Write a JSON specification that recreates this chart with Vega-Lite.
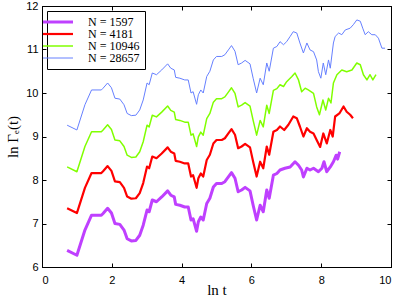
{
  "$schema": "https://vega.github.io/schema/vega-lite/v6.json",
  "autosize": "none",
  "width": 349,
  "height": 261,
  "padding": {"left": 42, "top": 6, "right": 9, "bottom": 33},
  "background": "white",
  "config": {
    "view": {"stroke": "black", "strokeWidth": 1},
    "axis": {"grid": false, "domainColor": "black", "tickColor": "black", "labelColor": "black", "titleColor": "black", "labelFont": "Liberation Sans", "labelFontSize": 11, "tickSize": -4, "titleFont": "Liberation Serif", "titleFontSize": 15, "titleFontWeight": "normal"},
    "legend": {"symbolSize": 900, "symbolStrokeWidth": 2}
  },
  "datasets": {
    "d": [
      {"s":"N = 1597","x":0.72,"y":6.38},{"s":"N = 1597","x":1.0,"y":6.27},{"s":"N = 1597","x":1.23,"y":6.85},{"s":"N = 1597","x":1.42,"y":7.19},{"s":"N = 1597","x":1.7,"y":7.19},{"s":"N = 1597","x":1.75,"y":7.23},{"s":"N = 1597","x":1.88,"y":7.35},{"s":"N = 1597","x":1.99,"y":7.24},{"s":"N = 1597","x":2.09,"y":7.0},{"s":"N = 1597","x":2.23,"y":6.98},{"s":"N = 1597","x":2.35,"y":6.85},{"s":"N = 1597","x":2.44,"y":6.65},{"s":"N = 1597","x":2.56,"y":6.6},{"s":"N = 1597","x":2.69,"y":6.61},{"s":"N = 1597","x":2.8,"y":6.73},{"s":"N = 1597","x":2.9,"y":6.96},{"s":"N = 1597","x":3.01,"y":7.31},{"s":"N = 1597","x":3.07,"y":7.27},{"s":"N = 1597","x":3.16,"y":7.54},{"s":"N = 1597","x":3.28,"y":7.5},{"s":"N = 1597","x":3.43,"y":7.61},{"s":"N = 1597","x":3.6,"y":7.75},{"s":"N = 1597","x":3.69,"y":7.65},{"s":"N = 1597","x":3.79,"y":7.61},{"s":"N = 1597","x":3.83,"y":7.44},{"s":"N = 1597","x":3.95,"y":7.42},{"s":"N = 1597","x":4.09,"y":7.38},{"s":"N = 1597","x":4.19,"y":7.38},{"s":"N = 1597","x":4.27,"y":7.08},{"s":"N = 1597","x":4.33,"y":7.11},{"s":"N = 1597","x":4.43,"y":6.82},{"s":"N = 1597","x":4.48,"y":7.04},{"s":"N = 1597","x":4.55,"y":7.15},{"s":"N = 1597","x":4.62,"y":7.08},{"s":"N = 1597","x":4.72,"y":7.46},{"s":"N = 1597","x":4.81,"y":7.58},{"s":"N = 1597","x":4.91,"y":7.84},{"s":"N = 1597","x":5.0,"y":7.92},{"s":"N = 1597","x":5.15,"y":7.92},{"s":"N = 1597","x":5.24,"y":7.96},{"s":"N = 1597","x":5.34,"y":8.07},{"s":"N = 1597","x":5.43,"y":8.17},{"s":"N = 1597","x":5.53,"y":8.04},{"s":"N = 1597","x":5.62,"y":7.73},{"s":"N = 1597","x":5.72,"y":7.77},{"s":"N = 1597","x":5.82,"y":7.83},{"s":"N = 1597","x":5.96,"y":7.75},{"s":"N = 1597","x":6.05,"y":7.42},{"s":"N = 1597","x":6.15,"y":7.08},{"s":"N = 1597","x":6.25,"y":7.42},{"s":"N = 1597","x":6.34,"y":7.27},{"s":"N = 1597","x":6.44,"y":7.77},{"s":"N = 1597","x":6.51,"y":7.58},{"s":"N = 1597","x":6.63,"y":8.11},{"s":"N = 1597","x":6.73,"y":8.15},{"s":"N = 1597","x":6.82,"y":8.23},{"s":"N = 1597","x":6.96,"y":8.27},{"s":"N = 1597","x":7.11,"y":8.3},{"s":"N = 1597","x":7.25,"y":8.42},{"s":"N = 1597","x":7.35,"y":8.34},{"s":"N = 1597","x":7.44,"y":8.23},{"s":"N = 1597","x":7.49,"y":8.07},{"s":"N = 1597","x":7.59,"y":8.27},{"s":"N = 1597","x":7.68,"y":8.23},{"s":"N = 1597","x":7.78,"y":8.27},{"s":"N = 1597","x":7.92,"y":8.19},{"s":"N = 1597","x":8.02,"y":8.27},{"s":"N = 1597","x":8.08,"y":8.42},{"s":"N = 1597","x":8.16,"y":8.19},{"s":"N = 1597","x":8.26,"y":8.3},{"s":"N = 1597","x":8.35,"y":8.42},{"s":"N = 1597","x":8.43,"y":8.57},{"s":"N = 1597","x":8.47,"y":8.48},{"s":"N = 1597","x":8.53,"y":8.65},

      {"s":"N = 4181","x":0.72,"y":7.35},{"s":"N = 4181","x":1.0,"y":7.24},{"s":"N = 4181","x":1.23,"y":7.82},{"s":"N = 4181","x":1.42,"y":8.16},{"s":"N = 4181","x":1.7,"y":8.16},{"s":"N = 4181","x":1.75,"y":8.2},{"s":"N = 4181","x":1.88,"y":8.32},{"s":"N = 4181","x":1.99,"y":8.21},{"s":"N = 4181","x":2.09,"y":7.97},{"s":"N = 4181","x":2.23,"y":7.95},{"s":"N = 4181","x":2.35,"y":7.82},{"s":"N = 4181","x":2.44,"y":7.62},{"s":"N = 4181","x":2.56,"y":7.57},{"s":"N = 4181","x":2.69,"y":7.58},{"s":"N = 4181","x":2.8,"y":7.7},{"s":"N = 4181","x":2.9,"y":7.93},{"s":"N = 4181","x":3.01,"y":8.31},{"s":"N = 4181","x":3.07,"y":8.27},{"s":"N = 4181","x":3.16,"y":8.54},{"s":"N = 4181","x":3.28,"y":8.5},{"s":"N = 4181","x":3.43,"y":8.61},{"s":"N = 4181","x":3.6,"y":8.75},{"s":"N = 4181","x":3.69,"y":8.65},{"s":"N = 4181","x":3.79,"y":8.61},{"s":"N = 4181","x":3.83,"y":8.44},{"s":"N = 4181","x":3.95,"y":8.42},{"s":"N = 4181","x":4.09,"y":8.38},{"s":"N = 4181","x":4.19,"y":8.38},{"s":"N = 4181","x":4.27,"y":8.08},{"s":"N = 4181","x":4.33,"y":8.11},{"s":"N = 4181","x":4.43,"y":7.82},{"s":"N = 4181","x":4.48,"y":8.04},{"s":"N = 4181","x":4.55,"y":8.15},{"s":"N = 4181","x":4.62,"y":8.08},{"s":"N = 4181","x":4.72,"y":8.46},{"s":"N = 4181","x":4.81,"y":8.58},{"s":"N = 4181","x":4.91,"y":8.84},{"s":"N = 4181","x":5.0,"y":8.92},{"s":"N = 4181","x":5.15,"y":8.92},{"s":"N = 4181","x":5.24,"y":8.96},{"s":"N = 4181","x":5.34,"y":9.07},{"s":"N = 4181","x":5.43,"y":9.17},{"s":"N = 4181","x":5.53,"y":9.04},{"s":"N = 4181","x":5.62,"y":8.73},{"s":"N = 4181","x":5.72,"y":8.77},{"s":"N = 4181","x":5.82,"y":8.83},{"s":"N = 4181","x":5.96,"y":8.75},{"s":"N = 4181","x":6.05,"y":8.42},{"s":"N = 4181","x":6.15,"y":8.08},{"s":"N = 4181","x":6.25,"y":8.42},{"s":"N = 4181","x":6.34,"y":8.27},{"s":"N = 4181","x":6.44,"y":8.77},{"s":"N = 4181","x":6.51,"y":8.58},{"s":"N = 4181","x":6.63,"y":9.11},{"s":"N = 4181","x":6.73,"y":9.15},{"s":"N = 4181","x":6.82,"y":9.23},{"s":"N = 4181","x":6.94,"y":9.15},{"s":"N = 4181","x":7.06,"y":9.27},{"s":"N = 4181","x":7.2,"y":9.46},{"s":"N = 4181","x":7.3,"y":9.42},{"s":"N = 4181","x":7.39,"y":9.23},{"s":"N = 4181","x":7.49,"y":9.0},{"s":"N = 4181","x":7.59,"y":9.19},{"s":"N = 4181","x":7.68,"y":9.11},{"s":"N = 4181","x":7.78,"y":9.07},{"s":"N = 4181","x":7.87,"y":8.92},{"s":"N = 4181","x":7.97,"y":8.76},{"s":"N = 4181","x":8.06,"y":9.07},{"s":"N = 4181","x":8.16,"y":8.84},{"s":"N = 4181","x":8.26,"y":9.15},{"s":"N = 4181","x":8.33,"y":9.0},{"s":"N = 4181","x":8.4,"y":9.46},{"s":"N = 4181","x":8.52,"y":9.53},{"s":"N = 4181","x":8.64,"y":9.69},{"s":"N = 4181","x":8.73,"y":9.57},{"s":"N = 4181","x":8.83,"y":9.5},{"s":"N = 4181","x":8.91,"y":9.42},

      {"s":"N = 10946","x":0.72,"y":8.3},{"s":"N = 10946","x":1.0,"y":8.19},{"s":"N = 10946","x":1.23,"y":8.77},{"s":"N = 10946","x":1.42,"y":9.11},{"s":"N = 10946","x":1.7,"y":9.11},{"s":"N = 10946","x":1.75,"y":9.15},{"s":"N = 10946","x":1.88,"y":9.27},{"s":"N = 10946","x":1.99,"y":9.16},{"s":"N = 10946","x":2.09,"y":8.92},{"s":"N = 10946","x":2.23,"y":8.9},{"s":"N = 10946","x":2.35,"y":8.77},{"s":"N = 10946","x":2.44,"y":8.57},{"s":"N = 10946","x":2.56,"y":8.52},{"s":"N = 10946","x":2.69,"y":8.53},{"s":"N = 10946","x":2.8,"y":8.65},{"s":"N = 10946","x":2.9,"y":8.88},{"s":"N = 10946","x":3.01,"y":9.26},{"s":"N = 10946","x":3.07,"y":9.22},{"s":"N = 10946","x":3.16,"y":9.49},{"s":"N = 10946","x":3.28,"y":9.45},{"s":"N = 10946","x":3.43,"y":9.56},{"s":"N = 10946","x":3.6,"y":9.7},{"s":"N = 10946","x":3.69,"y":9.6},{"s":"N = 10946","x":3.79,"y":9.56},{"s":"N = 10946","x":3.83,"y":9.39},{"s":"N = 10946","x":3.95,"y":9.37},{"s":"N = 10946","x":4.09,"y":9.33},{"s":"N = 10946","x":4.19,"y":9.33},{"s":"N = 10946","x":4.27,"y":9.03},{"s":"N = 10946","x":4.33,"y":9.06},{"s":"N = 10946","x":4.43,"y":8.77},{"s":"N = 10946","x":4.48,"y":8.99},{"s":"N = 10946","x":4.55,"y":9.1},{"s":"N = 10946","x":4.62,"y":9.03},{"s":"N = 10946","x":4.72,"y":9.41},{"s":"N = 10946","x":4.81,"y":9.53},{"s":"N = 10946","x":4.91,"y":9.79},{"s":"N = 10946","x":5.0,"y":9.87},{"s":"N = 10946","x":5.15,"y":9.87},{"s":"N = 10946","x":5.24,"y":9.91},{"s":"N = 10946","x":5.34,"y":10.02},{"s":"N = 10946","x":5.43,"y":10.12},{"s":"N = 10946","x":5.53,"y":9.99},{"s":"N = 10946","x":5.62,"y":9.68},{"s":"N = 10946","x":5.72,"y":9.72},{"s":"N = 10946","x":5.82,"y":9.78},{"s":"N = 10946","x":5.96,"y":9.7},{"s":"N = 10946","x":6.05,"y":9.37},{"s":"N = 10946","x":6.15,"y":9.03},{"s":"N = 10946","x":6.25,"y":9.37},{"s":"N = 10946","x":6.34,"y":9.22},{"s":"N = 10946","x":6.44,"y":9.72},{"s":"N = 10946","x":6.51,"y":9.53},{"s":"N = 10946","x":6.63,"y":10.06},{"s":"N = 10946","x":6.73,"y":10.1},{"s":"N = 10946","x":6.82,"y":10.19},{"s":"N = 10946","x":6.92,"y":10.15},{"s":"N = 10946","x":7.01,"y":10.26},{"s":"N = 10946","x":7.16,"y":10.38},{"s":"N = 10946","x":7.25,"y":10.46},{"s":"N = 10946","x":7.35,"y":10.3},{"s":"N = 10946","x":7.44,"y":10.03},{"s":"N = 10946","x":7.54,"y":10.11},{"s":"N = 10946","x":7.63,"y":10.07},{"s":"N = 10946","x":7.78,"y":9.99},{"s":"N = 10946","x":7.87,"y":9.68},{"s":"N = 10946","x":7.95,"y":9.5},{"s":"N = 10946","x":8.05,"y":9.84},{"s":"N = 10946","x":8.13,"y":9.61},{"s":"N = 10946","x":8.21,"y":9.88},{"s":"N = 10946","x":8.28,"y":9.77},{"s":"N = 10946","x":8.35,"y":10.23},{"s":"N = 10946","x":8.45,"y":10.42},{"s":"N = 10946","x":8.59,"y":10.53},{"s":"N = 10946","x":8.73,"y":10.49},{"s":"N = 10946","x":8.88,"y":10.53},{"s":"N = 10946","x":9.02,"y":10.69},{"s":"N = 10946","x":9.12,"y":10.65},{"s":"N = 10946","x":9.21,"y":10.42},{"s":"N = 10946","x":9.31,"y":10.3},{"s":"N = 10946","x":9.4,"y":10.42},{"s":"N = 10946","x":9.48,"y":10.3},{"s":"N = 10946","x":9.57,"y":10.42},

      {"s":"N = 28657","x":0.72,"y":9.26},{"s":"N = 28657","x":1.0,"y":9.15},{"s":"N = 28657","x":1.23,"y":9.73},{"s":"N = 28657","x":1.42,"y":10.07},{"s":"N = 28657","x":1.7,"y":10.07},{"s":"N = 28657","x":1.75,"y":10.11},{"s":"N = 28657","x":1.88,"y":10.23},{"s":"N = 28657","x":1.99,"y":10.12},{"s":"N = 28657","x":2.09,"y":9.88},{"s":"N = 28657","x":2.23,"y":9.86},{"s":"N = 28657","x":2.35,"y":9.73},{"s":"N = 28657","x":2.44,"y":9.53},{"s":"N = 28657","x":2.56,"y":9.48},{"s":"N = 28657","x":2.69,"y":9.49},{"s":"N = 28657","x":2.8,"y":9.61},{"s":"N = 28657","x":2.9,"y":9.84},{"s":"N = 28657","x":3.01,"y":10.23},{"s":"N = 28657","x":3.07,"y":10.19},{"s":"N = 28657","x":3.16,"y":10.46},{"s":"N = 28657","x":3.28,"y":10.42},{"s":"N = 28657","x":3.43,"y":10.53},{"s":"N = 28657","x":3.6,"y":10.67},{"s":"N = 28657","x":3.69,"y":10.57},{"s":"N = 28657","x":3.79,"y":10.53},{"s":"N = 28657","x":3.83,"y":10.36},{"s":"N = 28657","x":3.95,"y":10.34},{"s":"N = 28657","x":4.09,"y":10.3},{"s":"N = 28657","x":4.19,"y":10.3},{"s":"N = 28657","x":4.27,"y":10.0},{"s":"N = 28657","x":4.33,"y":10.03},{"s":"N = 28657","x":4.43,"y":9.74},{"s":"N = 28657","x":4.48,"y":9.96},{"s":"N = 28657","x":4.55,"y":10.07},{"s":"N = 28657","x":4.62,"y":10.0},{"s":"N = 28657","x":4.72,"y":10.38},{"s":"N = 28657","x":4.81,"y":10.5},{"s":"N = 28657","x":4.91,"y":10.76},{"s":"N = 28657","x":5.0,"y":10.84},{"s":"N = 28657","x":5.15,"y":10.84},{"s":"N = 28657","x":5.24,"y":10.88},{"s":"N = 28657","x":5.34,"y":10.99},{"s":"N = 28657","x":5.43,"y":11.09},{"s":"N = 28657","x":5.53,"y":10.96},{"s":"N = 28657","x":5.62,"y":10.65},{"s":"N = 28657","x":5.72,"y":10.69},{"s":"N = 28657","x":5.82,"y":10.75},{"s":"N = 28657","x":5.96,"y":10.67},{"s":"N = 28657","x":6.05,"y":10.34},{"s":"N = 28657","x":6.15,"y":10.0},{"s":"N = 28657","x":6.25,"y":10.34},{"s":"N = 28657","x":6.34,"y":10.19},{"s":"N = 28657","x":6.44,"y":10.69},{"s":"N = 28657","x":6.51,"y":10.5},{"s":"N = 28657","x":6.63,"y":11.03},{"s":"N = 28657","x":6.73,"y":11.07},{"s":"N = 28657","x":6.82,"y":11.18},{"s":"N = 28657","x":6.92,"y":11.11},{"s":"N = 28657","x":7.01,"y":11.18},{"s":"N = 28657","x":7.11,"y":11.3},{"s":"N = 28657","x":7.2,"y":11.41},{"s":"N = 28657","x":7.3,"y":11.38},{"s":"N = 28657","x":7.39,"y":11.15},{"s":"N = 28657","x":7.49,"y":10.92},{"s":"N = 28657","x":7.59,"y":11.15},{"s":"N = 28657","x":7.68,"y":10.99},{"s":"N = 28657","x":7.78,"y":10.95},{"s":"N = 28657","x":7.87,"y":10.76},{"s":"N = 28657","x":7.92,"y":10.49},{"s":"N = 28657","x":7.99,"y":10.34},{"s":"N = 28657","x":8.06,"y":10.69},{"s":"N = 28657","x":8.13,"y":10.42},{"s":"N = 28657","x":8.21,"y":10.76},{"s":"N = 28657","x":8.26,"y":10.57},{"s":"N = 28657","x":8.35,"y":11.15},{"s":"N = 28657","x":8.4,"y":11.3},{"s":"N = 28657","x":8.5,"y":11.38},{"s":"N = 28657","x":8.59,"y":11.34},{"s":"N = 28657","x":8.69,"y":11.45},{"s":"N = 28657","x":8.83,"y":11.49},{"s":"N = 28657","x":8.92,"y":11.57},{"s":"N = 28657","x":9.02,"y":11.68},{"s":"N = 28657","x":9.12,"y":11.65},{"s":"N = 28657","x":9.19,"y":11.49},{"s":"N = 28657","x":9.26,"y":11.34},{"s":"N = 28657","x":9.35,"y":11.41},{"s":"N = 28657","x":9.45,"y":11.34},{"s":"N = 28657","x":9.55,"y":11.34},{"s":"N = 28657","x":9.64,"y":11.26},{"s":"N = 28657","x":9.74,"y":11.03},{"s":"N = 28657","x":9.83,"y":11.03}
    ]
  },
  "data": {"name": "d"},
  "layer": [
    {
      "encoding": {
        "x": {"field": "x", "type": "quantitative", "scale": {"domain": [0, 10], "nice": false}, "axis": {"values": [0, 2, 4, 6, 8, 10], "title": "ln t", "labelPadding": 11, "titlePadding": -3}},
        "y": {"field": "y", "type": "quantitative", "scale": {"domain": [6, 12], "nice": false, "zero": false}, "axis": {"values": [6, 7, 8, 9, 10, 11, 12], "title": "ln Γₑ(t)", "labelPadding": 8, "titlePadding": 5}},
        "color": {"field": "s", "type": "nominal", "scale": {"domain": ["N = 1597", "N = 4181", "N = 10946", "N = 28657"], "range": ["#BF40FF", "#FF0000", "#80FF00", "#6680FF"]}, "legend": {"title": null, "orient": "none", "legendX": 5, "legendY": 5, "symbolType": "stroke", "symbolSize": 900, "labelFont": "Liberation Serif", "labelFontSize": 12, "labelColor": "black", "strokeColor": "black", "fillColor": "white", "padding": 5, "rowPadding": -4, "labelOffset": 24,
          "encode": {"symbols": {"update": {"size": {"value": 900}, "strokeWidth": {"signal": "datum.value === 'N = 1597' ? 3 : datum.value === 'N = 4181' ? 2.2 : datum.value === 'N = 10946' ? 1.5 : 1"}}}}}}
      },
      "layer": [
        {"transform": [{"filter": "datum.s === 'N = 1597'"}], "mark": {"type": "line", "strokeWidth": 3, "strokeJoin": "round"}},
        {"transform": [{"filter": "datum.s === 'N = 4181'"}], "mark": {"type": "line", "strokeWidth": 2.2, "strokeJoin": "round"}},
        {"transform": [{"filter": "datum.s === 'N = 10946'"}], "mark": {"type": "line", "strokeWidth": 1.5, "strokeJoin": "round"}},
        {"transform": [{"filter": "datum.s === 'N = 28657'"}], "mark": {"type": "line", "strokeWidth": 1, "strokeJoin": "round"}}
      ]
    },
    {
      "mark": {"type": "point", "opacity": 0},
      "encoding": {
        "x": {"field": "x", "type": "quantitative", "axis": {"orient": "top", "values": [0, 2, 4, 6, 8, 10], "labels": false, "title": null}},
        "y": {"field": "y", "type": "quantitative", "axis": {"orient": "right", "values": [6, 7, 8, 9, 10, 11, 12], "labels": false, "title": null}}
      }
    }
  ],
  "resolve": {"axis": {"x": "independent", "y": "independent"}}
}
